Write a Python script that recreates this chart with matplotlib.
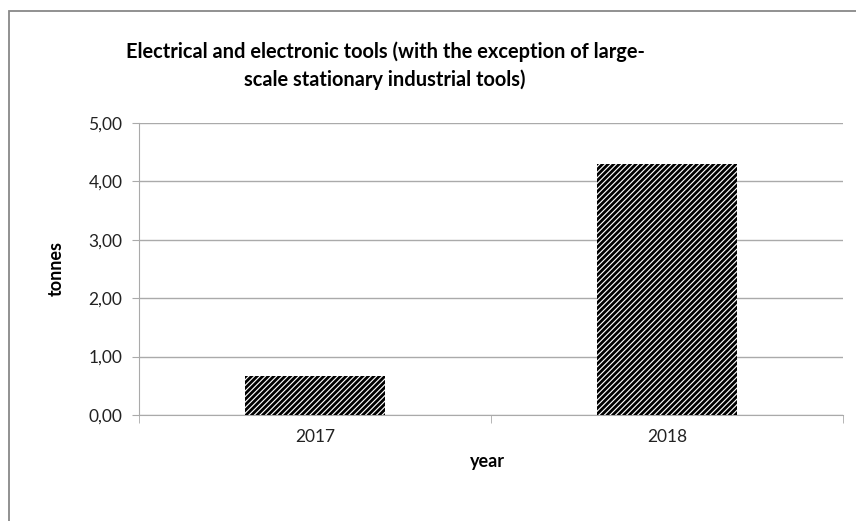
import matplotlib

matplotlib.use("Agg", force=True)
import matplotlib.pyplot as plt
from matplotlib.patches import Rectangle
from matplotlib.ticker import FixedLocator

plt.rcParams["font.family"] = ["Lato", "DejaVu Sans"]
plt.rcParams["hatch.linewidth"] = 2.0

years = ["2017", "2018"]
tonnes = [0.67, 4.30]
yticks = [0.0, 1.0, 2.0, 3.0, 4.0, 5.0]

W, H = 856, 521
fig = plt.figure(figsize=(W / 100, H / 100), dpi=100)
ax = fig.add_axes([139 / W, 1 - 415 / H, (843 - 139) / W, (415 - 123) / H])

# outer chart frame (runs off the right and bottom edge in the original)
fig.patches.append(Rectangle((9 / W, -0.05), 1.0, 1 - 11 / H + 0.05, transform=fig.transFigure,
                             fill=False, edgecolor="#888888", linewidth=1.3))

x = list(range(len(years)))
ax.bar(x, tonnes, width=0.40, color="white", edgecolor="black", hatch="//////", linewidth=0, zorder=3)

ax.set_xlim(-0.5, len(years) - 0.5)
ax.set_ylim(0, 5)
ax.set_yticks(yticks)
ax.set_yticklabels([f"{v:.2f}".replace(".", ",") for v in yticks], fontsize=12.5, color="#222222")
ax.set_xticks(x)
ax.set_xticklabels(years, fontsize=12.5, color="#222222")
ax.xaxis.set_minor_locator(FixedLocator([-0.5, 0.5, 1.5]))
ax.tick_params(axis="x", which="major", length=0, pad=10)
ax.tick_params(axis="x", which="minor", length=6, color="#aaaaaa")
ax.tick_params(axis="y", length=5, color="#aaaaaa", pad=7)

ax.grid(axis="y", color="#aaaaaa", linewidth=1)
ax.set_axisbelow(True)
for side in ["top", "right"]:
    ax.spines[side].set_visible(False)
for side in ["left", "bottom"]:
    ax.spines[side].set_color("#aaaaaa")

fig.text(487 / W, 1 - 461 / H, "year", ha="center", va="center", fontsize=13, fontweight="bold")
fig.text(56 / W, 1 - 269 / H, "tonnes", ha="center", va="center", rotation=90,
         fontsize=13, fontweight="bold")
fig.text(385 / W, 1 - 66 / H,
         "Electrical and electronic tools (with the exception of large-\nscale stationary industrial tools)",
         ha="center", va="center", multialignment="center",
         fontsize=14.4, fontweight="bold", linespacing=1.45)

fig.savefig("out.png", dpi=100)
